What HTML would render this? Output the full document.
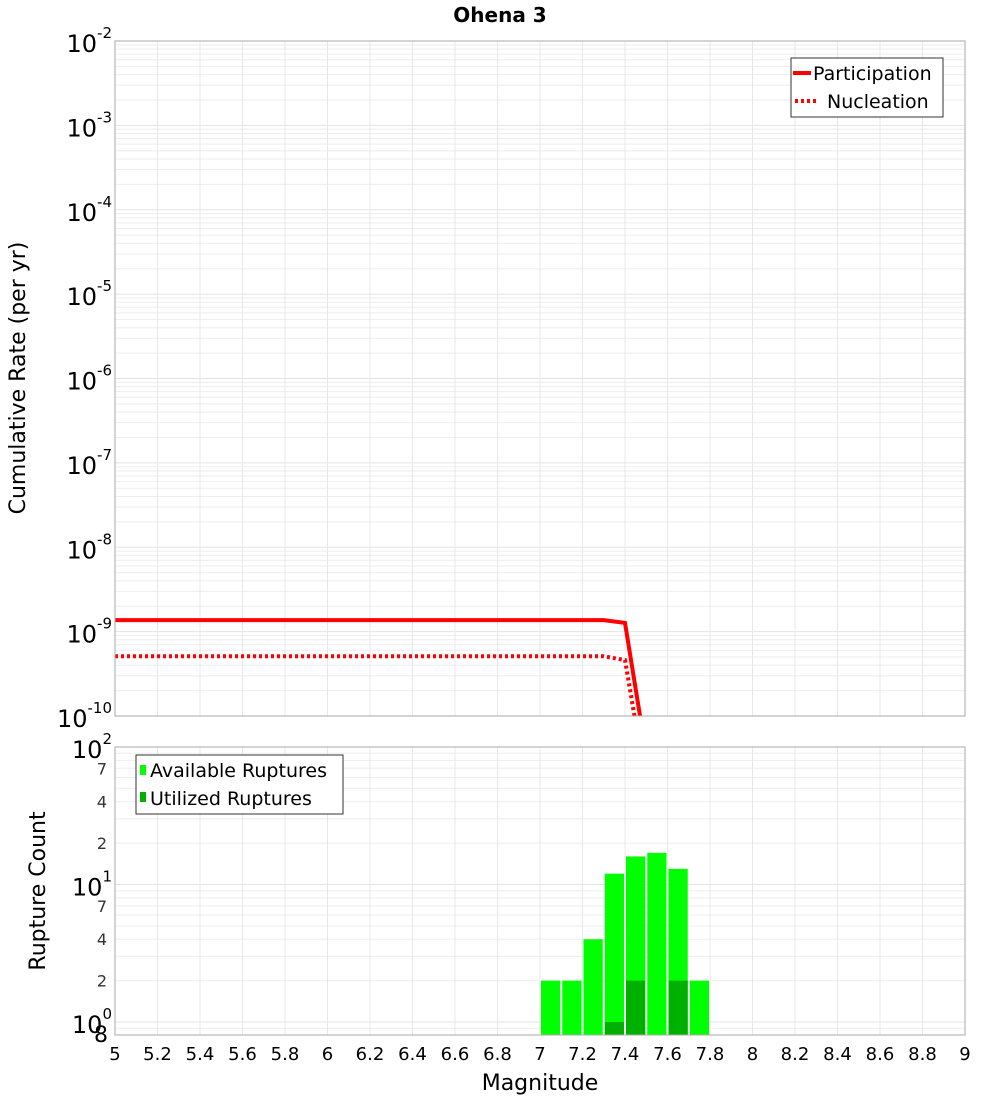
<!DOCTYPE html>
<html><head><meta charset="utf-8">
<style>
body{margin:0;background:#fff;font-family:"DejaVu Sans","Liberation Sans",sans-serif;}
svg text{font-family:"DejaVu Sans","Liberation Sans",sans-serif;}
</style></head>
<body>
<svg id="c" width="1000" height="1100" xmlns="http://www.w3.org/2000/svg">
<text x="500" y="22" text-anchor="middle" font-size="20" font-weight="bold">Ohena 3</text>
<g id="topplot"></g>
<g id="botplot"></g>
<text transform="translate(25,378) rotate(-90)" text-anchor="middle" font-size="22">Cumulative Rate (per yr)</text>
<text transform="translate(45,891) rotate(-90)" text-anchor="middle" font-size="22">Rupture Count</text>
<text x="540" y="1090" text-anchor="middle" font-size="22">Magnitude</text>
</svg>
<script>
const partMag=[5.0,7.3,7.4,7.5];
const partRate=[1.37e-9,1.37e-9,1.27e-9,3.5e-11];
const nuclMag=[5.0,7.3,7.4,7.5];
const nuclRate=[5.1e-10,5.1e-10,4.6e-10,1.5e-11];
const binMag=[7.05,7.15,7.25,7.35,7.45,7.55,7.65,7.75];
const availCount=[2,2,4,12,16,17,13,2];
const usedCount=[0,0,0,1,2,0,2,0];
const xTicks=[5,5.2,5.4,5.6,5.8,6,6.2,6.4,6.6,6.8,7,7.2,7.4,7.6,7.8,8,8.2,8.4,8.6,8.8,9];
const topExps=[-2,-3,-4,-5,-6,-7,-8,-9,-10];
const botMinor=[2,4,7,20,40,70];

const NS='http://www.w3.org/2000/svg';
const L=115,R=965,T1=41,B1=716,T2=747,B2=1035;
const X=m=>L+(m-5)/4*(R-L);
const Y1=v=>T1+(-2-Math.log10(v))/8*(B1-T1);
const lo=0.805;
const Y2=v=>T2+(2-Math.log10(v))/(2-Math.log10(lo))*(B2-T2);
function mk(p,t,a,txt){const e=document.createElementNS(NS,t);for(const k in a)e.setAttribute(k,a[k]);if(txt!==undefined)e.textContent=txt;p.appendChild(e);return e;}
const topG=document.getElementById('topplot'),botG=document.getElementById('botplot');
const svgEl=document.getElementById('c');
const defs=mk(svgEl,'defs',{});
const cp=mk(defs,'clipPath',{id:'cp1'});mk(cp,'rect',{x:L,y:T1,width:R-L,height:B1-T1});

for(let e=-10;e<-2;e++){for(let k=1;k<10;k++){const y=Y1(k*Math.pow(10,e));
const g=mk(topG,'line',{x1:L,x2:R,y1:y,y2:y,stroke:k==1?'#e4e4e4':'#eeeeee','stroke-width':1});

}}
for(const d of [0.1,1,10]){for(let k=1;k<10;k++){const v=k*d;if(v<lo)continue;const y=Y2(v);
const g=mk(botG,'line',{x1:L,x2:R,y1:y,y2:y,stroke:k==1?'#e4e4e4':'#eeeeee','stroke-width':1});

}}
xTicks.forEach(t=>{const x=X(t);
let g=mk(topG,'line',{x1:x,x2:x,y1:T1,y2:B1,stroke:'#e8e8e8'});


g=mk(botG,'line',{x1:x,x2:x,y1:T2,y2:B2,stroke:'#e8e8e8'});


const tx=mk(botG,'text',{x:x,y:1060,'text-anchor':'middle','font-size':18},String(t));


});
topExps.forEach(e=>{const y=Y1(Math.pow(10,e));
const t=mk(topG,'text',{x:112,y:y+11,'text-anchor':'end','font-size':24});


mk(t,'tspan',{},'10');mk(t,'tspan',{dy:-14,'font-size':15},String(e));
});
[[100,'2'],[10,'1'],[1,'0']].forEach(([v,e])=>{const y=Y2(v);
const t=mk(botG,'text',{x:112,y:y+11,'text-anchor':'end','font-size':24});


mk(t,'tspan',{},'10');mk(t,'tspan',{dy:-14,'font-size':15},e);
});
botMinor.forEach(v=>{const t=mk(botG,'text',{x:107,y:Y2(v)+6,'text-anchor':'end','font-size':16,fill:'#333'},String(v>=10?v/10:v));

});
{const t=mk(botG,'text',{x:108,y:1042,'text-anchor':'end','font-size':22},'8');}

const lg=mk(topG,'g',{'clip-path':'url(#cp1)'});
let p=mk(lg,'polyline',{points:partMag.map((m,i)=>X(m)+','+Y1(partRate[i])).join(' '),fill:'none',stroke:'#ff0000','stroke-width':4});


p=mk(lg,'polyline',{points:nuclMag.map((m,i)=>X(m)+','+Y1(nuclRate[i])).join(' '),fill:'none',stroke:'#ff0000','stroke-width':4,'stroke-dasharray':'3,3'});



binMag.forEach((m,i)=>{const x0=X(m-0.05)+1,x1=X(m+0.05)-1;
const r=mk(botG,'rect',{x:x0,y:Y2(availCount[i]),width:x1-x0,height:B2-Y2(availCount[i]),fill:'#00ff00'});


if(usedCount[i]>0){const u=mk(botG,'rect',{x:x0,y:Y2(usedCount[i]),width:x1-x0,height:B2-Y2(usedCount[i]),fill:'#00b000'});

}
});

mk(topG,'rect',{x:L,y:T1,width:R-L,height:B1-T1,fill:'none',stroke:'#aaa'});
mk(botG,'rect',{x:L,y:T2,width:R-L,height:B2-T2,fill:'none',stroke:'#aaa'});

let lgd=mk(topG,'g',{});


mk(lgd,'rect',{x:791,y:58,width:152,height:59,fill:'#fff',stroke:'#333'});
mk(lgd,'line',{x1:793,x2:811,y1:73,y2:73,stroke:'#f00','stroke-width':4});
mk(lgd,'line',{x1:795,x2:819,y1:101,y2:101,stroke:'#f00','stroke-width':4,'stroke-dasharray':'3,3'});
mk(lgd,'text',{x:813,y:80,'font-size':19},'Participation');
mk(lgd,'text',{x:827,y:108,'font-size':19},'Nucleation');
lgd=mk(botG,'g',{});


mk(lgd,'rect',{x:136,y:755,width:207,height:59,fill:'#fff',stroke:'#333'});
mk(lgd,'rect',{x:140,y:765,width:6,height:10,fill:'#00ff00'});
mk(lgd,'rect',{x:140,y:792,width:6,height:10,fill:'#00b000'});
mk(lgd,'text',{x:150,y:777,'font-size':19},'Available Ruptures');
mk(lgd,'text',{x:150,y:805,'font-size':19},'Utilized Ruptures');
</script>
</body></html>
